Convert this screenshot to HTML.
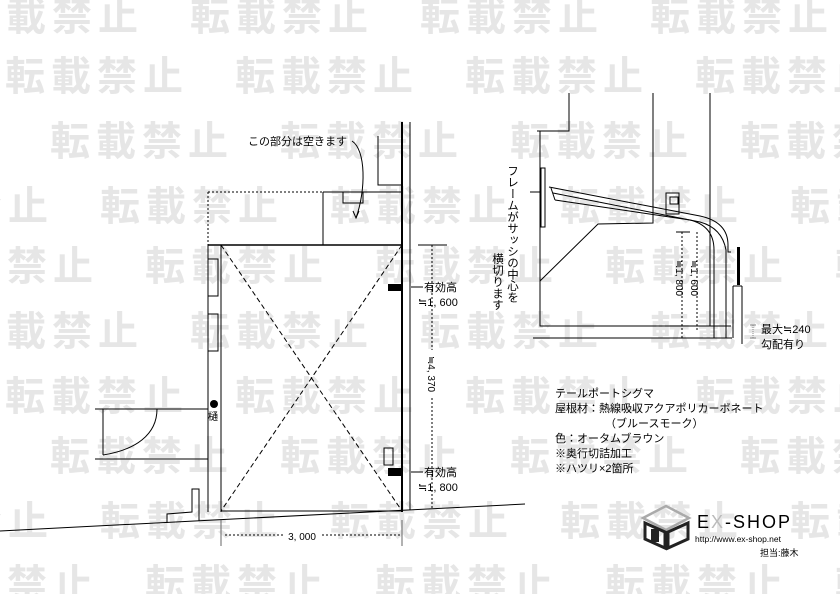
<!DOCTYPE html>
<html><head><meta charset="utf-8"><style>
html,body{margin:0;padding:0;background:#fff;}
svg{display:block;}
.wm{font-family:"Noto Sans CJK JP","WenQuanYi Zen Hei",sans-serif;font-weight:bold;font-size:40px;fill:#e6e6e6;letter-spacing:6px;}
.t{font-family:"Liberation Sans","Noto Sans CJK JP",sans-serif;font-size:11px;fill:#000;}
</style></head><body>
<svg width="840" height="594" viewBox="0 0 840 594" xmlns="http://www.w3.org/2000/svg">
<g class="wm">
<text x="-40" y="30">転載禁止　転載禁止　転載禁止　転載禁止　転載禁止</text>
<text x="5" y="90">転載禁止　転載禁止　転載禁止　転載禁止</text>
<text x="50" y="155">転載禁止　転載禁止　転載禁止　転載禁止</text>
<text x="-130" y="220">転載禁止　転載禁止　転載禁止　転載禁止　転載禁止</text>
<text x="-85" y="280">転載禁止　転載禁止　転載禁止　転載禁止　転載禁止</text>
<text x="-40" y="345">転載禁止　転載禁止　転載禁止　転載禁止　転載禁止</text>
<text x="5" y="410">転載禁止　転載禁止　転載禁止　転載禁止</text>
<text x="50" y="470">転載禁止　転載禁止　転載禁止　転載禁止</text>
<text x="-130" y="535">転載禁止　転載禁止　転載禁止　転載禁止　転載禁止</text>
<text x="-85" y="598">転載禁止　転載禁止　転載禁止　転載禁止　転載禁止</text>
</g>
<g fill="none" stroke="#000" stroke-width="1">
<line x1="402" y1="122" x2="402" y2="512" stroke-width="2"/>
<line x1="410" y1="122" x2="410" y2="510"/>
<polyline points="378,136 378,185 402,185"/>
<polyline points="208,192 208,245" stroke-dasharray="2,2"/>
<line x1="208" y1="192" x2="323" y2="192" stroke-dasharray="2,2"/>
<line x1="323" y1="192" x2="402" y2="192"/>
<line x1="323" y1="192" x2="323" y2="245"/>
<rect x="343" y="192" width="20" height="11"/>
<path d="M352,141 C366,150 366,190 356,218"/>
<polyline points="353,211 356,218 359,211"/>
<line x1="208" y1="245" x2="402" y2="245" stroke-width="1.5"/>
<line x1="208" y1="245" x2="208" y2="512"/>
<line x1="221" y1="245" x2="221" y2="512"/>
<line x1="221" y1="511" x2="402" y2="511"/>
<line x1="221" y1="245" x2="402" y2="511" stroke-dasharray="5,3"/>
<line x1="402" y1="245" x2="221" y2="511" stroke-dasharray="5,3"/>
<rect x="208" y="259" width="10" height="37"/>
<rect x="208" y="314" width="10" height="37"/>
<line x1="95" y1="409" x2="208" y2="409"/>
<line x1="95" y1="459" x2="208" y2="459"/>
<line x1="103" y1="409" x2="103" y2="455"/>
<path d="M103,455 C135,450 157,435 157,409"/>
<polyline points="167,523 167,514 192,512 192,489 199,489 199,521"/>
<line x1="0" y1="531" x2="525" y2="504"/>
<rect x="384" y="448" width="9" height="17"/>
<line x1="418" y1="245" x2="447" y2="245"/>
<line x1="432" y1="245" x2="432" y2="350" stroke-dasharray="2,2"/>
<line x1="432" y1="398" x2="432" y2="510" stroke-dasharray="2,2"/>
<line x1="221" y1="520" x2="221" y2="546" stroke="#666"/>
<line x1="402" y1="520" x2="402" y2="546" stroke="#666"/>
<line x1="225" y1="535" x2="285" y2="535" stroke-dasharray="2,2"/>
<line x1="322" y1="535" x2="400" y2="535" stroke-dasharray="2,2"/>
<line x1="411" y1="287" x2="423" y2="287"/>
<line x1="411" y1="472" x2="423" y2="472"/>
<polyline points="537,131 569,131 569,93" />
<polyline points="540,131 540,326 731,326"/>
<polyline points="653,93 653,223 598,224 540,281"/>
<line x1="710" y1="93" x2="710" y2="326"/>
<rect x="541" y="168" width="4" height="59"/>
<line x1="530" y1="192" x2="541" y2="192"/>
<path d="M549,187 L700,216 Q728,222 728,245 L728,252 L731,252"/>
<path d="M551,188 L555,200"/>
<path d="M553,193 L700,222 Q722,228 726,250 L726,338"/>
<path d="M555,200 L690,220 Q714,226 714,250 L714,338"/>
<rect x="666" y="193" width="13" height="21"/>
<rect x="670" y="197" width="8" height="7"/>
<line x1="533" y1="338" x2="732" y2="338"/>
<line x1="742" y1="286" x2="742" y2="344"/>
<line x1="733" y1="286" x2="733" y2="338"/>
<line x1="733" y1="286" x2="742" y2="286"/>
<line x1="676" y1="232" x2="690" y2="232"/>
<line x1="682" y1="232" x2="682" y2="338" stroke-dasharray="2,2"/>
<line x1="697" y1="232" x2="697" y2="330" stroke-dasharray="2,2"/>
<line x1="750" y1="325" x2="756" y2="325" stroke="#888"/>
<line x1="753" y1="325" x2="753" y2="338" stroke="#888" stroke-dasharray="1,1"/>
<line x1="750" y1="338" x2="756" y2="338" stroke="#888"/>
</g>
<rect x="737" y="247" width="3" height="38" fill="#000"/>
<rect x="388" y="284" width="13" height="7" fill="#000"/>
<rect x="388" y="468" width="13" height="8" fill="#000"/>
<circle cx="214" cy="404" r="4" fill="#000"/>
<g class="t">
<text x="248" y="145">この部分は空きます</text>
<text x="208" y="420" font-size="10">樋</text>
<text x="424" y="291">有効高</text>
<text x="418" y="306">≒1, 600</text>
<text x="424" y="476">有効高</text>
<text x="418" y="491">≒1, 800</text>
<text x="302" y="540" text-anchor="middle" font-size="10">3, 000</text>
<text transform="translate(428,374) rotate(90)" text-anchor="middle" font-size="10">≒4, 370</text>
<text transform="translate(691,278) rotate(90)" text-anchor="middle" font-size="10">≒1, 600</text>
<text transform="translate(676,278) rotate(90)" text-anchor="middle" font-size="10">≒1, 800</text>
<text x="512" y="165" style="writing-mode:vertical-rl" font-size="11.5">フレームがサッシの中心を</text>
<text x="497" y="253" style="writing-mode:vertical-rl" font-size="11.5">横切ります</text>
<text x="761" y="333">最大≒240</text>
<text x="761" y="348">勾配有り</text>
<text x="555" y="397">テールポートシグマ</text>
<text x="555" y="412">屋根材：熱線吸収アクアポリカーボネート</text>
<text x="605" y="427">（ブルースモーク）</text>
<text x="555" y="442">色：オータムブラウン</text>
<text x="555" y="457">※奥行切詰加工</text>
<text x="555" y="472">※ハツリ×2箇所</text>
<text x="697" y="528" font-size="18" letter-spacing="2">E<tspan fill="#bbb">X</tspan>-SHOP</text>
<text x="695" y="542" font-size="8.5">http://www.ex-shop.net</text>
<text x="760" y="556" font-size="9">担当:藤木</text>
</g>
<g fill="none" stroke-width="2.5">
<polygon points="643,518 666,506 689,518 666,530" stroke="#aaa"/>
<polygon points="645,523 665,532 665,548 645,539" stroke="#222" stroke-width="3"/>
<polygon points="668,532 688,523 688,539 668,548" stroke="#222" stroke-width="3"/>
</g>
<rect x="651" y="529" width="8" height="13" fill="#222"/>
</svg>
</body></html>
